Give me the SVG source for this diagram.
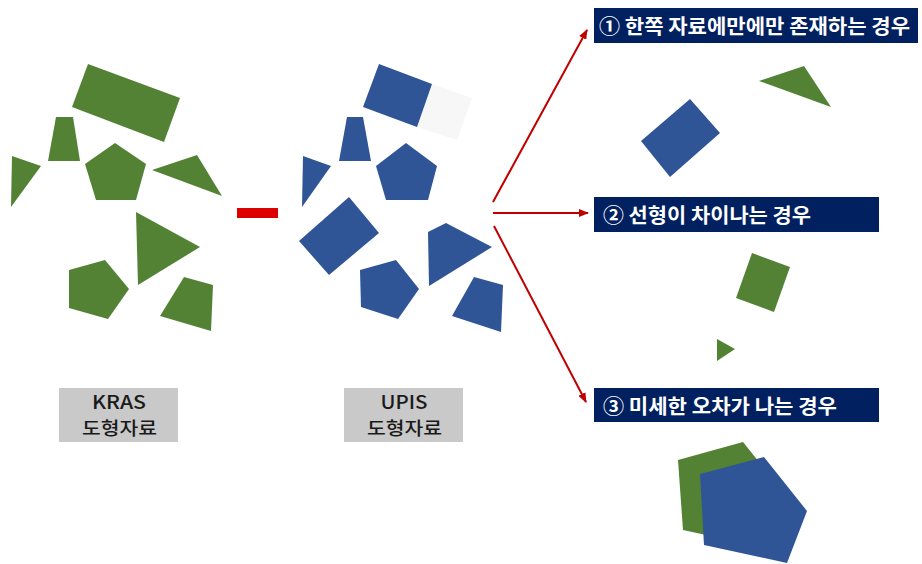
<svg xmlns="http://www.w3.org/2000/svg" width="922" height="564" viewBox="0 0 922 564">
<style>
.g{fill:#548235}
.b{fill:#2f5597}
.hdr{fill:#002060}
.ht{fill:#ffffff;font-family:"Noto Sans CJK KR","Noto Sans",sans-serif;font-weight:bold;font-size:20px}
.lb{fill:#c9c9c9}
.lt{fill:#1a1a1a;font-family:"Noto Sans CJK KR","Noto Sans",sans-serif;font-size:18px;font-weight:500;text-anchor:middle}
.arr{stroke:#c00000;stroke-width:2;fill:none;marker-end:url(#ah)}
</style>
<defs>
<marker id="ah" markerWidth="10" markerHeight="8" refX="9" refY="4" orient="auto" markerUnits="userSpaceOnUse">
<path d="M0,0 L10,4 L0,8 z" fill="#c00000"/>
</marker>
</defs>
<rect width="922" height="564" fill="#ffffff"/>

<g id="kras-shapes">
<polygon class="g" points="88,64 180,98 164,142 72,107"/>
<polygon class="g" points="56,117 73,117 80,161 48,161"/>
<polygon class="g" points="12,156 41,166 11,207"/>
<polygon class="g" points="115,143 146,164 136,200 96,200 85,164"/>
<polygon class="g" points="152,170 197,155 222,196"/>
<polygon class="g" points="136,212 200,247 138,285"/>
<polygon class="g" points="105,260 129,289 108,319 69,308 69,270"/>
<polygon class="g" points="184,277 213,285 211,331 160,316"/>
</g>

<g id="minus">
<rect x="237" y="208" width="41" height="10" fill="#dd0000"/>
</g>

<g id="upis-shapes">
<polygon fill="#f7f7f7" points="432,84 472,98 457,140 417,127"/>
<polygon class="b" points="379,64 432,84 417,127 363,107"/>
<polygon class="b" points="347,117 363,117 371,161 339,161"/>
<polygon class="b" points="303,156 331,166 302,207"/>
<polygon class="b" points="406,143 437,166 428,200 386,200 376,166"/>
<polygon class="b" points="349,197 379,233 329,275 299,241"/>
<polygon class="b" points="396,260 419,289 398,319 361,307 360,270"/>
<polygon class="b" points="428,232 446,223 492,247 429,286"/>
<polygon class="b" points="474,277 503,285 501,332 452,316"/>
</g>

<g id="kras-label">
<rect class="lb" x="59" y="388" width="119" height="54"/>
<text class="lt" x="119" y="409" textLength="54" lengthAdjust="spacingAndGlyphs">KRAS</text>
<text class="lt" x="119.5" y="435" textLength="75" lengthAdjust="spacingAndGlyphs">도형자료</text>
</g>

<g id="upis-label">
<rect class="lb" x="344" y="388" width="119" height="54"/>
<text class="lt" x="404" y="409" textLength="47" lengthAdjust="spacingAndGlyphs">UPIS</text>
<text class="lt" x="404.5" y="435" textLength="75" lengthAdjust="spacingAndGlyphs">도형자료</text>
</g>

<g id="connectors">
<line class="arr" x1="493" y1="202" x2="587" y2="30"/>
<line class="arr" x1="493" y1="213" x2="588" y2="213"/>
<line class="arr" x1="494" y1="226" x2="586" y2="402"/>
</g>

<g id="case1">
<rect class="hdr" x="594" y="8" width="324" height="35"/>
<text class="ht" x="599" y="34" textLength="311" lengthAdjust="spacingAndGlyphs">① 한쪽 자료에만에만 존재하는 경우</text>
<polygon class="b" points="690,99 720,133 670,177 641,141"/>
<polygon class="g" points="759,81 804,66 831,107"/>
</g>

<g id="case2">
<rect class="hdr" x="594" y="197" width="285" height="35"/>
<text class="ht" x="603" y="223" textLength="208" lengthAdjust="spacingAndGlyphs">② 선형이 차이나는 경우</text>
<polygon class="g" points="752,253 790,267 774,312 736,298"/>
<polygon class="g" points="717,339 735,349 717,361"/>
</g>

<g id="case3">
<rect class="hdr" x="594" y="388" width="285" height="34"/>
<text class="ht" x="603" y="414" textLength="234" lengthAdjust="spacingAndGlyphs">③ 미세한 오차가 나는 경우</text>
<polygon class="g" points="743,442 786,496 766,548 683,530 678,460"/>
<polygon class="b" points="764,457 807,511 787,563 704,545 700,474"/>
</g>
</svg>
